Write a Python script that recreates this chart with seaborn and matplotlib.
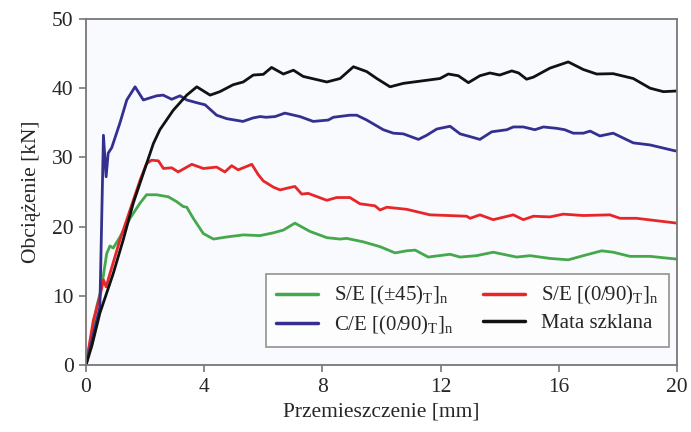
import numpy as np
import pandas as pd
import matplotlib
matplotlib.use("Agg")
import matplotlib.pyplot as plt
import seaborn as sns

# --- data ---
green_x = [0, 0.36, 0.53, 0.7, 0.81, 0.92, 1.15, 1.49, 1.83, 2.05, 2.39, 2.79, 3.07, 3.29, 3.41, 3.63, 3.97, 4.31, 4.76, 5.32, 5.89, 6.34, 6.68, 7.07, 7.58, 8.15, 8.6, 8.82, 9.38, 9.95, 10.46, 10.85, 11.14, 11.58, 12.32, 12.66, 13.22, 13.78, 14.57, 15.03, 15.7, 16.32, 16.83, 17.45, 17.84, 18.41, 19.09, 20]
green_y = [0, 8.4, 11.3, 16.1, 17.2, 16.9, 18.5, 21.2, 23.4, 24.6, 24.6, 24.3, 23.6, 22.9, 22.8, 21.2, 19.0, 18.2, 18.5, 18.8, 18.7, 19.1, 19.5, 20.5, 19.3, 18.4, 18.2, 18.3, 17.8, 17.1, 16.2, 16.5, 16.6, 15.6, 16.0, 15.6, 15.8, 16.3, 15.6, 15.8, 15.4, 15.2, 15.8, 16.5, 16.3, 15.7, 15.7, 15.3]

red_x = [0, 0.25, 0.47, 0.59, 0.68, 0.81, 1.15, 1.49, 1.83, 2.05, 2.22, 2.45, 2.62, 2.9, 3.12, 3.58, 3.97, 4.42, 4.7, 4.93, 5.15, 5.61, 5.83, 6.0, 6.34, 6.57, 6.85, 7.07, 7.3, 7.52, 8.15, 8.48, 8.93, 9.27, 9.78, 9.95, 10.18, 10.85, 11.64, 12.88, 13.0, 13.33, 13.78, 14.46, 14.8, 15.14, 15.7, 16.15, 16.83, 17.73, 18.07, 18.63, 20]
red_y = [0, 6.5, 9.9, 12.3, 11.3, 13.2, 18.1, 22.4, 26.7, 29.1, 29.6, 29.5, 28.4, 28.5, 27.9, 29.0, 28.4, 28.6, 27.9, 28.8, 28.2, 29.0, 27.5, 26.6, 25.7, 25.3, 25.6, 25.8, 24.7, 24.8, 23.8, 24.2, 24.2, 23.3, 23.0, 22.4, 22.8, 22.5, 21.7, 21.5, 21.2, 21.7, 21.0, 21.7, 21.0, 21.5, 21.4, 21.8, 21.6, 21.7, 21.2, 21.2, 20.5]

blue_x = [0, 0.2, 0.47, 0.59, 0.68, 0.75, 0.87, 1.15, 1.38, 1.66, 1.94, 2.39, 2.61, 2.9, 3.18, 3.41, 3.75, 4.03, 4.42, 4.76, 5.31, 5.65, 5.89, 6.1, 6.4, 6.73, 7.24, 7.69, 8.2, 8.37, 8.93, 9.16, 9.5, 10.06, 10.4, 10.74, 11.25, 11.53, 11.87, 12.32, 12.66, 13.0, 13.33, 13.73, 14.24, 14.46, 14.8, 15.19, 15.48, 15.93, 16.2, 16.49, 16.83, 17.06, 17.39, 17.84, 18.52, 19.09, 19.88, 20]
blue_y = [0, 3.5, 8.4, 33.2, 27.2, 30.6, 31.4, 35, 38.3, 40.2, 38.3, 38.9, 39.0, 38.4, 38.9, 38.3, 37.9, 37.6, 36.1, 35.6, 35.2, 35.7, 35.9, 35.8, 35.9, 36.4, 35.9, 35.2, 35.4, 35.8, 36.1, 36.1, 35.4, 34.0, 33.5, 33.4, 32.6, 33.2, 34.1, 34.5, 33.4, 33.0, 32.6, 33.7, 34.0, 34.4, 34.4, 34.0, 34.4, 34.2, 34.0, 33.5, 33.5, 33.8, 33.1, 33.5, 32.1, 31.8, 31.0, 30.9]

black_x = [0, 0.2, 0.47, 0.92, 1.26, 1.6, 1.94, 2.28, 2.5, 2.95, 3.41, 3.75, 4.2, 4.53, 4.98, 5.32, 5.66, 6.0, 6.28, 6.68, 7.02, 7.35, 8.15, 8.6, 9.05, 9.5, 9.84, 10.29, 10.74, 11.98, 12.26, 12.6, 12.94, 13.33, 13.67, 14.0, 14.41, 14.64, 14.91, 15.14, 15.7, 16.32, 16.83, 17.28, 17.84, 18.52, 19.09, 19.54, 20]
black_y = [0, 2.8, 7.5, 13.2, 18.1, 23.4, 27.7, 32.0, 34.0, 36.8, 39.0, 40.2, 39.0, 39.5, 40.5, 40.9, 41.9, 42.0, 43.0, 42.05, 42.6, 41.7, 40.9, 41.4, 43.1, 42.4, 41.4, 40.2, 40.7, 41.4, 42.05, 41.8, 40.8, 41.8, 42.2, 41.9, 42.5, 42.2, 41.3, 41.6, 42.9, 43.8, 42.7, 42.05, 42.1, 41.4, 40.0, 39.5, 39.6]

labels = [r"S/E [(±45)$_\mathrm{T}$]$_\mathrm{n}$",
          r"S/E [(0/90)$_\mathrm{T}$]$_\mathrm{n}$",
          r"C/E [(0/90)$_\mathrm{T}$]$_\mathrm{n}$",
          "Mata szklana"]
colors = ["#45a84c", "#e8262a", "#33308f", "#111111"]
x_ticks = [0, 4, 8, 12, 16, 20]
y_ticks = [0, 10, 20, 30, 40, 50]

frames = []
for lab, xs, ys in zip(labels,
                       [green_x, red_x, blue_x, black_x],
                       [green_y, red_y, blue_y, black_y]):
    frames.append(pd.DataFrame({"x": xs, "y": ys, "series": lab}))
df = pd.concat(frames, ignore_index=True)

sns.set_style("ticks")
plt.rcParams["font.family"] = ["Liberation Serif", "DejaVu Serif"]
plt.rcParams["mathtext.fontset"] = "custom"
plt.rcParams["mathtext.rm"] = "Liberation Serif"
plt.rcParams["mathtext.it"] = "Liberation Serif:italic"

fig = plt.figure(figsize=(6.91, 4.32), dpi=100)
ax = fig.add_axes([86 / 691, 1 - 365 / 432, (677 - 86) / 691, (365 - 19) / 432])
ax.set_facecolor("#f8fafd")

sns.lineplot(data=df, x="x", y="y", hue="series", palette=dict(zip(labels, colors)),
             hue_order=labels, estimator=None, sort=False, linewidth=2.0, ax=ax)

ax.set_xlim(0, 20)
ax.set_ylim(0, 50)
ax.set_xticks(x_ticks)
ax.set_yticks(y_ticks)
ax.tick_params(axis="both", direction="out", length=5, width=1.2, color="#777777",
               labelsize=15.5, pad=4)
for s in ax.spines.values():
    s.set_visible(True)
    s.set_color("#777777")
    s.set_linewidth(1.3)

ax.set_xlabel("Przemieszczenie [mm]", fontsize=15.5, labelpad=4)
ax.set_ylabel("Obciążenie [kN]", fontsize=15.5, labelpad=8)

handles, labs = ax.get_legend_handles_labels()
order = [0, 2, 1, 3]  # fill rows: green, red / blue, black
handles = [handles[i] for i in order]
labs = [labs[i] for i in order]
leg = ax.legend(handles, labs, ncol=2, loc="lower right", bbox_to_anchor=(0.9865, 0.052),
                borderaxespad=0.0,
                fontsize=15, frameon=True, fancybox=False, edgecolor="#777777",
                handlelength=2.0, columnspacing=1.4, borderpad=0.5, labelspacing=0.3)
leg.get_frame().set_linewidth(1.2)
leg.get_frame().set_facecolor("white")
for h in leg.get_lines():
    h.set_linewidth(2.5)

fig.savefig("out.png", dpi=100)
